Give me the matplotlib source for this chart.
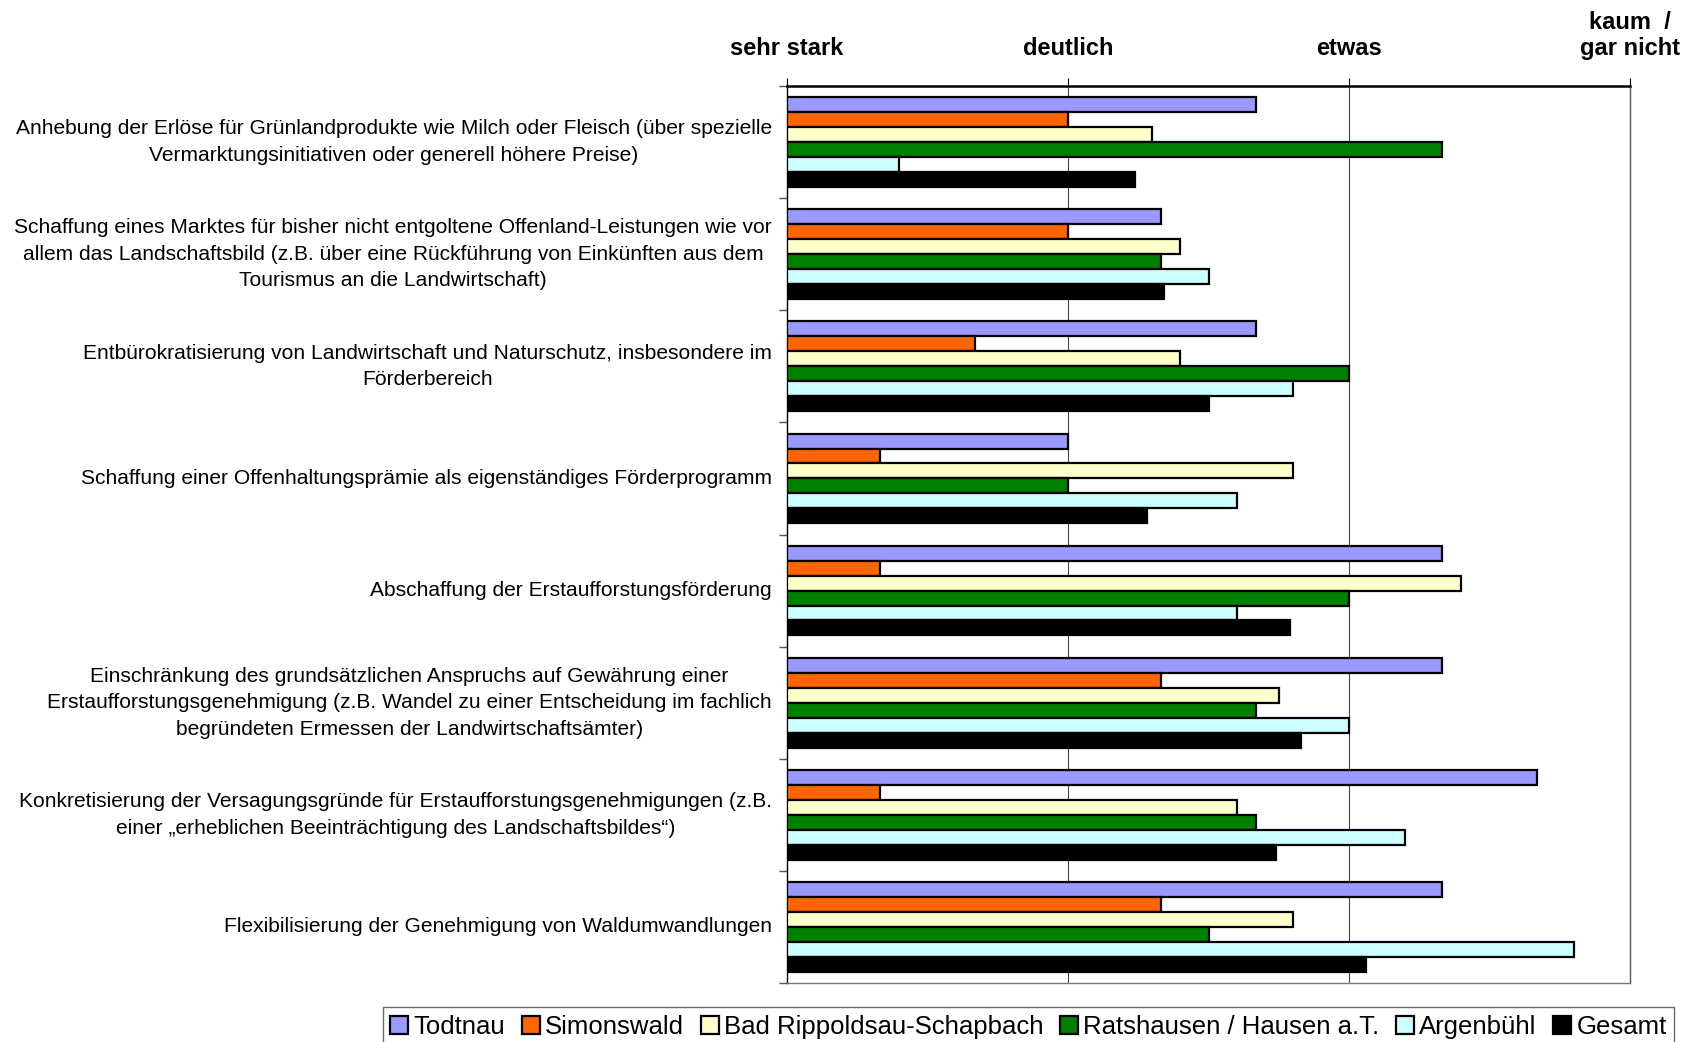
import matplotlib.pyplot as plt
import matplotlib.transforms as mtransforms
import numpy as np

plt.rcParams['font.family'] = ['Liberation Sans', 'DejaVu Sans']

categories = [
    "Anhebung der Erlöse für Grünlandprodukte wie Milch oder Fleisch (über spezielle\n"
    "Vermarktungsinitiativen oder generell höhere Preise)",
    "Schaffung eines Marktes für bisher nicht entgoltene Offenland-Leistungen wie vor\n"
    "allem das Landschaftsbild (z.B. über eine Rückführung von Einkünften aus dem\n"
    "Tourismus an die Landwirtschaft)",
    "Entbürokratisierung von Landwirtschaft und Naturschutz, insbesondere im\n"
    "Förderbereich",
    "Schaffung einer Offenhaltungsprämie als eigenständiges Förderprogramm",
    "Abschaffung der Erstaufforstungsförderung",
    "Einschränkung des grundsätzlichen Anspruchs auf Gewährung einer\n"
    "Erstaufforstungsgenehmigung (z.B. Wandel zu einer Entscheidung im fachlich\n"
    "begründeten Ermessen der Landwirtschaftsämter)",
    "Konkretisierung der Versagungsgründe für Erstaufforstungsgenehmigungen (z.B.\n"
    "einer „erheblichen Beeinträchtigung des Landschaftsbildes“)",
    "Flexibilisierung der Genehmigung von Waldumwandlungen",
]

scale_values = [1, 2, 3, 4]
scale_labels = ["sehr stark", "deutlich", "etwas", "kaum  /\ngar nicht"]

series_names = ["Todtnau", "Simonswald", "Bad Rippoldsau-Schapbach",
                "Ratshausen / Hausen a.T.", "Argenbühl", "Gesamt"]

todtnau = [2.67, 2.33, 2.67, 2.00, 3.33, 3.33, 3.67, 3.33]
simonswald = [2.00, 2.00, 1.67, 1.33, 1.33, 2.33, 1.33, 2.33]
bad_rippoldsau = [2.30, 2.40, 2.40, 2.80, 3.40, 2.75, 2.60, 2.80]
ratshausen = [3.33, 2.33, 3.00, 2.00, 3.00, 2.67, 2.67, 2.50]
argenbuehl = [1.40, 2.50, 2.80, 2.60, 2.60, 3.00, 3.20, 3.80]
gesamt = [2.24, 2.34, 2.50, 2.28, 2.79, 2.83, 2.74, 3.06]

series = [todtnau, simonswald, bad_rippoldsau, ratshausen, argenbuehl, gesamt]
colors = ["#9999FF", "#FF6600", "#FFFFCC", "#008000", "#CCFFFF", "#000000"]

fig = plt.figure(figsize=(16.95, 10.42), dpi=100)
ax = fig.add_axes([787 / 1695, 1 - 983 / 1042, (1630 - 787) / 1695, (983 - 86) / 1042])

n_series = len(series)
group = 0.8
bar_h = group / n_series
y = np.arange(len(categories))

baseline = scale_values[0]
for j, (vals, name, col) in enumerate(zip(series, series_names, colors)):
    offs = -group / 2 + (j + 0.5) * bar_h
    ax.barh(y + offs, np.array(vals) - baseline, left=baseline, height=bar_h,
            color=col, edgecolor="black", linewidth=1.6, label=name, zorder=3)

ax.set_xlim(1, 4)
ax.set_ylim(len(categories) - 0.5, -0.5)

# vertical gridlines
for xv in scale_values[1:-1]:
    ax.axvline(xv, color="#444444", linewidth=0.8, zorder=1)

# spines
ax.spines["top"].set_linewidth(1.8)
ax.spines["top"].set_color("black")
ax.spines["left"].set_linewidth(1.0)
ax.spines["left"].set_color("black")
ax.spines["right"].set_linewidth(1.0)
ax.spines["right"].set_color("#555555")
ax.spines["bottom"].set_linewidth(1.0)
ax.spines["bottom"].set_color("#777777")

# top scale labels
ax.xaxis.tick_top()
ax.set_xticks(scale_values)
ax.set_xticklabels(scale_labels, fontsize=17, fontweight="bold")
ax.tick_params(axis="x", which="major", direction="out", length=6, width=0.8,
               pad=13, colors="black")
for lab in ax.get_xticklabels():
    lab.set_multialignment("center")
    lab.set_linespacing(1.15)

# category labels on the left, drawn as text so multi-line blocks sit centred
ax.set_yticks(y)
ax.set_yticklabels([])
ax.tick_params(axis="y", which="major", length=0)
label_trans = mtransforms.blended_transform_factory(ax.transAxes, ax.transData)
off = mtransforms.offset_copy(label_trans, fig=fig, x=-15, y=0, units="dots")
for yi, text in zip(y, categories):
    ax.text(0, yi, text, transform=off, ha="right", va="center",
            multialignment="center", linespacing=1.5, fontsize=15.1)

ax.set_yticks(np.arange(len(categories) + 1) - 0.5, minor=True)
ax.tick_params(axis="y", which="minor", direction="out", length=6, width=1.0,
               color="#555555")

leg = fig.legend(loc="upper center", bbox_to_anchor=(1028.5 / 1695, 1 - 1007 / 1042),
                 ncol=6, fontsize=18.5, frameon=True, fancybox=False,
                 handlelength=0.7, handleheight=0.7, handletextpad=0.2,
                 columnspacing=0.65, borderpad=0.3, borderaxespad=0)
leg.get_frame().set_edgecolor("#444444")
leg.get_frame().set_linewidth(1.0)
for h in leg.legend_handles:
    h.set_linewidth(1.6)

fig.savefig("out.png", dpi=100)
